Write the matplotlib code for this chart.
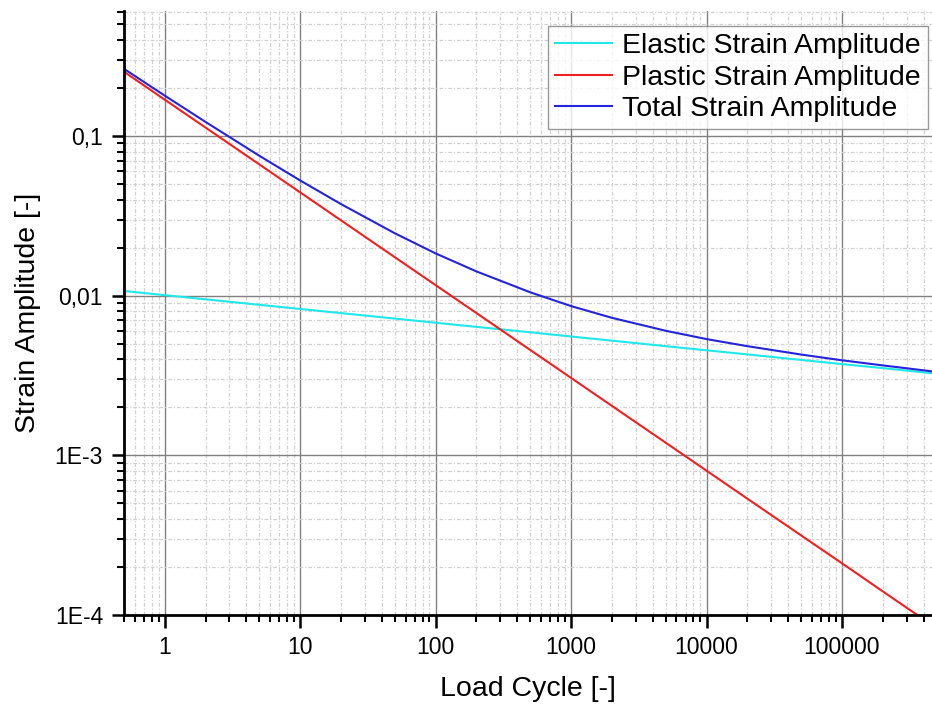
import matplotlib.pyplot as plt
import matplotlib.ticker as mticker
import numpy as np

plt.rcParams['font.family'] = ['Liberation Sans', 'DejaVu Sans']

# load cycles
cycles = [0.5, 1, 2, 5, 10, 20, 50, 100, 200, 500, 1000, 2000, 5000,
          10000, 20000, 50000, 100000, 200000, 460000]
elastic = [0.01070, 0.01008, 0.00949, 0.00877, 0.00826, 0.00778, 0.00719,
           0.00677, 0.00638, 0.00590, 0.00555, 0.00523, 0.00483, 0.00455,
           0.00429, 0.00396, 0.00373, 0.00352, 0.00327]
plastic = [0.253, 0.1691, 0.1131, 0.0664, 0.0444, 0.02967, 0.01742, 0.01165,
           0.00779, 0.00457, 0.003057, 0.002043, 0.001200, 0.000802,
           0.000536, 0.000315, 0.000211, 0.0001407, 0.0000868]
total = [0.2637, 0.1792, 0.1226, 0.0752, 0.0527, 0.0375, 0.0246, 0.0184,
         0.0142, 0.0105, 0.00861, 0.00727, 0.00603, 0.00535, 0.00483,
         0.00428, 0.00394, 0.00366, 0.00336]

xticks = [1, 10, 100, 1000, 10000, 100000]
xlabels = ['1', '10', '100', '1000', '10000', '100000']
yticks = [1e-4, 1e-3, 1e-2, 1e-1]
ylabels = ['1E-4', '1E-3', '0,01', '0,1']

fig = plt.figure(figsize=(9.32, 7.11), dpi=100)
ax = fig.add_axes([0.133, 0.135, 0.867, 0.85])

ax.plot(cycles, elastic, color='#20e8e8', lw=1.5, label='Elastic Strain Amplitude')
ax.plot(cycles, plastic, color='#f02020', lw=1.5, label='Plastic Strain Amplitude')
ax.plot(cycles, total, color='#2424d8', lw=1.5, label='Total Strain Amplitude')

ax.set_xscale('log')
ax.set_yscale('log')
ax.set_xlim(0.5, 4.62e5)
ax.set_ylim(1e-4, 0.61)

ax.xaxis.set_major_locator(mticker.FixedLocator(xticks))
ax.xaxis.set_major_formatter(mticker.FixedFormatter(xlabels))
ax.yaxis.set_major_locator(mticker.FixedLocator(yticks))
ax.yaxis.set_major_formatter(mticker.FixedFormatter(ylabels))
ax.xaxis.set_minor_locator(mticker.LogLocator(base=10, subs=np.arange(2, 10), numticks=20))
ax.yaxis.set_minor_locator(mticker.LogLocator(base=10, subs=np.arange(2, 10), numticks=20))
ax.xaxis.set_minor_formatter(mticker.NullFormatter())
ax.yaxis.set_minor_formatter(mticker.NullFormatter())

ax.grid(which='major', color='#808080', lw=1.0, ls='-')
ax.grid(which='minor', color='#d0d0d0', lw=0.9, ls=(0, (3, 1.5, 1, 1.5)))
ax.set_axisbelow(True)

for s in ['top', 'right']:
    ax.spines[s].set_visible(False)
for s in ['left', 'bottom']:
    ax.spines[s].set_linewidth(2)

ax.tick_params(which='major', direction='out', length=9, width=1.8, labelsize=16.5, pad=6)
ax.tick_params(which='minor', direction='out', length=5, width=1.5)

ax.set_xlabel('Load Cycle [-]', fontsize=20.5, labelpad=12)
ax.set_ylabel('Strain Amplitude [-]', fontsize=20.5, labelpad=10)

leg = ax.legend(loc='upper right', bbox_to_anchor=(1.0, 0.982), fontsize=20.5,
                frameon=True, fancybox=False, edgecolor='#808080',
                handlelength=2.0, handletextpad=0.35, borderpad=0.25,
                labelspacing=0.2, borderaxespad=0.15)
leg.get_frame().set_linewidth(1.0)

fig.savefig('out.png', dpi=100)
